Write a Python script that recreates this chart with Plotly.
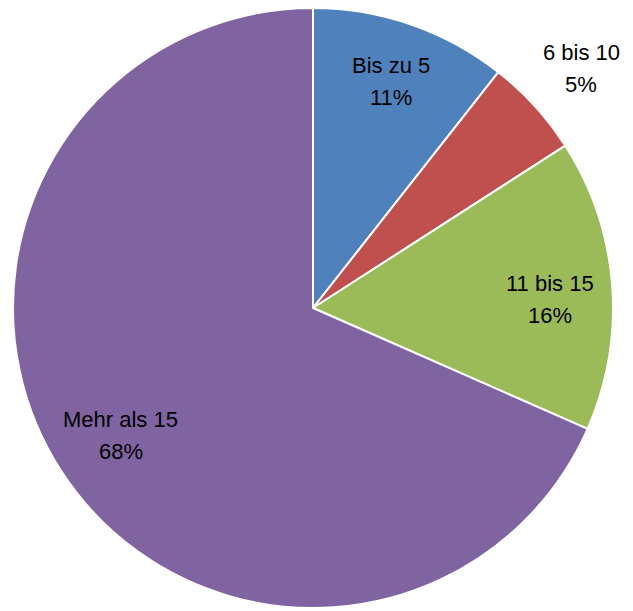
import math
import plotly.graph_objects as go

labels = ["Bis zu 5", "6 bis 10", "11 bis 15", "Mehr als 15"]
values = [10.6, 5.3, 15.7, 68.4]
colors = ["#4F81BD", "#C0504D", "#9BBB59", "#8064A2"]
label_radius = [0.80, 1.20, 0.79, 0.77]
label_angle_offset = [0.0, 0.5, 2.5, -0.5]  # degrees

W, H = 633, 611
# page body has an 8px margin, so shift figure coordinates accordingly
cx, cy, R = 305, 300, 300

fig = go.Figure(go.Pie(
    labels=labels, values=values, sort=False, direction="clockwise", rotation=0,
    marker=dict(colors=colors, line=dict(color="white", width=2)),
    textinfo="none", hoverinfo="label+percent", showlegend=False,
    domain=dict(x=[(cx - R) / W, (cx + R) / W], y=[1 - (cy + R) / H, 1 - (cy - R) / H]),
))

total = sum(values)
cum = 0
annotations = []
for lab, v, rf, off in zip(labels, values, label_radius, label_angle_offset):
    mid = (cum + v / 2) / total * 2 * math.pi + math.radians(off)
    cum += v
    px = cx + rf * R * math.sin(mid)
    py = cy - rf * R * math.cos(mid)
    for txt, shift in ((lab, 16), (f"{v / total * 100:.0f}%", -16)):
        annotations.append(dict(
            x=px / W, y=1 - py / H, xref="paper", yref="paper", text=txt,
            showarrow=False, yshift=shift, xanchor="center", yanchor="middle",
            font=dict(family="Liberation Sans", size=22, color="#000000"),
        ))

fig.update_layout(
    width=W, height=H, margin=dict(l=0, r=0, t=0, b=0),
    paper_bgcolor="white", plot_bgcolor="white", annotations=annotations,
)
fig.write_html("out.html")
